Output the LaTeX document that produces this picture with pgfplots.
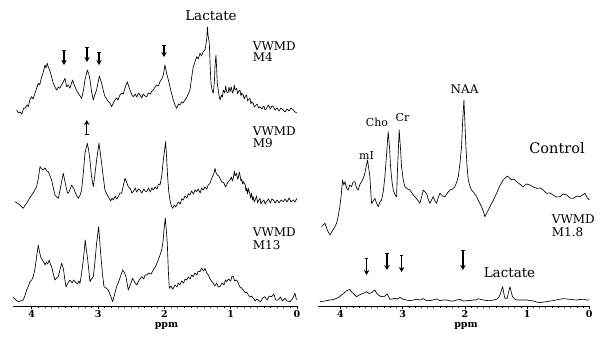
\documentclass[border=0pt]{standalone}
\usepackage{pgfplots}
\pgfplotsset{compat=1.18}
\usepackage{fontspec}
\setmainfont{DejaVu Serif}
\usetikzlibrary{arrows.meta}
\tikzset{
  arr/.style={line width=1.4pt, {Bar[width=3.5pt,line width=1pt]}-{Stealth[length=5pt,width=5.5pt]}},
  trace/.style={black, line width=0.65pt, line join=round},
}
\pgfplotsset{
  spec/.style={
    scale only axis, height=306pt, ymin=0, ymax=306, x dir=reverse, xmin=0,
    axis x line=bottom, axis y line=none, axis line style={-, line width=0.7pt},
    xtick={0,1,2,3,4}, minor x tick num=9, tick align=outside,
    major tick length=3.5pt, minor tick length=2.2pt,
    tick style={line width=0.6pt, black},
    xticklabel style={font=\fontsize{9.5}{9.5}\selectfont\bfseries, inner sep=0.8pt},
    /pgf/number format/assume math mode=true,
    clip=false,
  },
}
\begin{document}
\begin{tikzpicture}
\useasboundingbox (0pt,0pt) rectangle (603pt,337pt);
% ---------------- left panel ----------------
\begin{axis}[spec, at={(13.2pt,31pt)}, anchor=south west, width=283.8pt, xmax=4.28]
% M4
\addplot[trace, no markers] coordinates {
(4.228,196) (4.20,193) (4.178,194) (4.15,192) (4.12,198) (4.103,197.7) (4.07,201) (4.052,199.3) (4.03,206) (4.002,209.3) (3.98,207) (3.952,212.7) (3.93,217) (3.901,222.7) (3.88,221) (3.851,229.3) (3.83,233) (3.801,241) (3.785,238) (3.766,242.7) (3.75,239) (3.731,236) (3.70,229) (3.675,222.7) (3.65,219) (3.625,216) (3.60,219) (3.575,217.7) (3.55,221) (3.524,224.3) (3.499,227.7) (3.474,219.3) (3.45,221) (3.424,217.7) (3.40,223) (3.384,226) (3.365,222) (3.348,219.3) (3.32,215) (3.298,212.7) (3.27,210) (3.248,207.7) (3.22,216) (3.198,226) (3.162,236) (3.14,232) (3.122,226) (3.10,215) (3.072,206) (3.05,211) (3.022,216) (2.981,230) (2.946,222.7) (2.92,215) (2.896,209.3) (2.87,207) (2.846,204.3) (2.82,203) (2.795,199.3) (2.77,203) (2.745,206) (2.72,208) (2.70,206) (2.670,211) (2.64,213) (2.62,212) (2.594,217.7) (2.559,224.3) (2.54,220) (2.519,216) (2.49,211) (2.469,209.3) (2.44,212) (2.42,209) (2.39,213) (2.368,211) (2.34,208) (2.32,212) (2.29,210) (2.267,209.3) (2.24,213) (2.21,212) (2.19,215) (2.167,216) (2.14,219) (2.117,221) (2.09,220) (2.066,224.3) (2.04,227) (2.016,231) (1.991,241) (1.966,232.7) (1.94,226) (1.916,219.3) (1.89,212) (1.865,206) (1.84,201) (1.815,197.7) (1.79,202) (1.765,201) (1.74,204) (1.72,203) (1.689,206) (1.66,209) (1.64,212) (1.614,216) (1.59,228) (1.564,239.3) (1.54,244) (1.513,249.3) (1.49,247) (1.463,252.7) (1.44,250) (1.413,254.3) (1.39,256) (1.378,259.3) (1.36,268) (1.352,279.3) (1.34,270) (1.322,262.7) (1.31,240) (1.297,222.7) (1.28,216) (1.262,212.7) (1.245,225) (1.237,239.3) (1.222,251) (1.21,235) (1.202,222.7) (1.18,212) (1.161,206) (1.14,211) (1.125,209) (1.111,216) (1.09,213) (1.075,220) (1.06,214) (1.04,213) (1.025,219) (1.011,214.3) (0.99,219) (0.975,213) (0.96,215) (0.945,221) (0.935,216) (0.91,217.7) (0.895,212) (0.885,214) (0.86,216) (0.845,210) (0.835,212.7) (0.81,211) (0.795,207) (0.784,209.3) (0.76,211) (0.745,205) (0.735,206) (0.709,207.7) (0.695,202) (0.685,204) (0.659,202.7) (0.645,199) (0.63,200) (0.60,202) (0.58,198) (0.558,199.3) (0.53,197) (0.50,200) (0.48,196) (0.458,197.7) (0.43,201) (0.40,197) (0.38,200) (0.357,199.3) (0.33,196) (0.30,198) (0.27,195) (0.24,198) (0.206,196) (0.18,194) (0.15,197) (0.12,195) (0.09,198) (0.055,196) (0.03,194) (0.0,193)
};
% M9
\addplot[trace, no markers] coordinates {
(4.253,104.3) (4.22,103) (4.178,101) (4.15,99) (4.128,97.7) (4.10,101) (4.077,102.7) (4.04,107) (4.002,111) (3.97,114) (3.927,119.3) (3.90,128) (3.876,139.3) (3.85,137) (3.826,136) (3.80,138) (3.775,135) (3.751,134.3) (3.725,130) (3.700,126) (3.675,118) (3.650,111) (3.625,109) (3.600,107.7) (3.575,115) (3.550,124.3) (3.524,132.7) (3.484,119.3) (3.465,114) (3.449,112.7) (3.42,117) (3.399,121) (3.37,118) (3.348,114.3) (3.32,110) (3.298,107.7) (3.27,111) (3.248,116) (3.22,135) (3.198,152.7) (3.162,162.7) (3.14,155) (3.122,146) (3.10,130) (3.072,119.3) (3.05,130) (3.022,146) (2.986,162.7) (2.966,153) (2.946,142.7) (2.92,128) (2.896,116) (2.87,112) (2.846,109.3) (2.81,105) (2.79,108) (2.770,106) (2.74,110) (2.72,107) (2.695,109.3) (2.67,113) (2.645,112.7) (2.62,120) (2.594,127.7) (2.57,124) (2.544,119.3) (2.51,117) (2.49,113) (2.469,114.3) (2.44,118) (2.42,114) (2.39,117) (2.368,116) (2.34,113) (2.31,117) (2.29,115) (2.267,114.3) (2.24,118) (2.21,114) (2.19,118) (2.167,116) (2.14,119) (2.11,117) (2.09,122) (2.066,121) (2.04,130) (2.016,146) (1.981,164.3) (1.966,148) (1.951,129.3) (1.935,115) (1.916,106) (1.895,100) (1.875,97.7) (1.85,101) (1.83,99) (1.815,101) (1.79,104) (1.76,102) (1.74,107) (1.714,106) (1.69,110) (1.66,108) (1.64,112) (1.614,111) (1.59,115) (1.56,112) (1.54,116) (1.513,114.3) (1.49,117) (1.46,113) (1.44,118) (1.413,116) (1.39,119) (1.36,117) (1.34,121) (1.312,122.7) (1.29,127) (1.27,130) (1.25,133) (1.237,137.7) (1.22,133) (1.20,131) (1.18,130) (1.161,127.7) (1.13,124) (1.10,123) (1.08,119) (1.061,121) (1.04,124) (1.011,126) (0.99,129) (0.975,125) (0.96,128) (0.945,135) (0.935,130) (0.910,132.7) (0.895,127) (0.885,128) (0.870,134) (0.860,131) (0.845,125) (0.835,127) (0.820,122) (0.809,124.3) (0.78,121) (0.77,115) (0.76,118) (0.745,112) (0.734,117.7) (0.71,112) (0.70,108) (0.685,113) (0.67,106) (0.659,109.3) (0.645,104) (0.63,106) (0.61,110) (0.595,103) (0.583,105) (0.558,107.7) (0.545,102) (0.53,104) (0.50,106) (0.48,102) (0.458,104.3) (0.43,107) (0.40,103) (0.38,107) (0.357,106) (0.33,103) (0.30,106) (0.27,103) (0.24,106) (0.206,104.3) (0.18,107) (0.15,104) (0.12,108) (0.09,104) (0.055,106) (0.03,104) (0.0,107.7)
};
% M13
\addplot[trace, no markers] coordinates {
(4.279,8.7) (4.24,6) (4.203,4.3) (4.17,5) (4.128,6) (4.10,11) (4.077,16) (4.05,20) (4.027,24.3) (4.00,26) (3.977,29.3) (3.95,38) (3.927,49.3) (3.901,61) (3.886,55) (3.866,49.3) (3.84,46) (3.82,44) (3.801,41) (3.78,44) (3.76,42) (3.736,46) (3.72,42) (3.700,39.3) (3.675,32) (3.650,26) (3.625,28) (3.600,29.3) (3.575,36) (3.550,42.7) (3.524,37.7) (3.50,26) (3.484,19.3) (3.455,23) (3.424,26) (3.39,23) (3.37,26) (3.348,24.3) (3.31,22) (3.29,25) (3.273,22.7) (3.25,32) (3.223,46) (3.193,66) (3.178,57) (3.162,49.3) (3.14,36) (3.122,24.3) (3.10,27) (3.072,29.3) (3.05,42) (3.022,62.7) (2.991,79.3) (2.976,66) (2.961,52.7) (2.935,33) (2.911,19.3) (2.88,18) (2.846,16) (2.81,10) (2.780,4.3) (2.75,12) (2.720,19.3) (2.68,26) (2.65,32) (2.629,36) (2.60,33) (2.579,29.3) (2.56,22) (2.544,16) (2.51,22) (2.479,27.7) (2.45,24) (2.418,21) (2.38,26) (2.343,29.3) (2.31,27) (2.29,31) (2.267,31) (2.24,33) (2.20,32) (2.167,36) (2.13,40) (2.092,46) (2.06,52) (2.041,56) (2.02,65) (2.006,76) (1.986,88) (1.97,75) (1.956,62.7) (1.94,35) (1.926,17.7) (1.90,20) (1.88,17) (1.865,17.7) (1.84,21) (1.81,19) (1.79,23) (1.765,21) (1.74,25) (1.71,23) (1.69,27) (1.664,26) (1.64,29) (1.61,27) (1.59,31) (1.564,29.3) (1.54,33) (1.51,31) (1.49,35) (1.463,34.3) (1.44,38) (1.41,35) (1.388,37.7) (1.36,33) (1.337,31) (1.31,27) (1.29,25) (1.262,22.7) (1.24,20) (1.21,23) (1.19,19) (1.161,19.3) (1.13,23) (1.10,21) (1.08,26) (1.061,24.3) (1.03,27) (1.00,25) (0.98,30) (0.960,29.3) (0.94,25) (0.91,26) (0.885,22.7) (0.86,19) (0.835,18) (0.809,16) (0.78,13) (0.76,14) (0.734,11) (0.71,9) (0.685,10) (0.659,7.7) (0.63,5) (0.61,7) (0.583,6) (0.55,4) (0.52,8) (0.483,9.3) (0.45,6) (0.42,10) (0.382,9.3) (0.35,12) (0.32,6) (0.282,6) (0.25,9) (0.22,5) (0.181,7.7) (0.15,5) (0.106,4.3) (0.07,7) (0.030,12.7) (0.015,8) (0.0,6)
};
% arrows
\draw[arr] (axis cs:3.514,256) -- (axis cs:3.514,241);
\draw[arr] (axis cs:3.167,259) -- (axis cs:3.167,244);
\draw[arr] (axis cs:2.986,254) -- (axis cs:2.986,241);
\draw[arr] (axis cs:2.006,261) -- (axis cs:2.006,249);
\draw[arr] (axis cs:3.17,171) -- (axis cs:3.17,186);
\end{axis}
% ---------------- right panel ----------------
\begin{axis}[spec, at={(318pt,31pt)}, anchor=south west, width=271.3pt, xmax=4.36]
% Control
\addplot[trace, no markers] coordinates {
(4.303,79.3) (4.249,82.7) (4.21,76) (4.169,71) (4.13,75) (4.088,79.3) (4.062,82.7) (4.035,90) (4.009,99.3) (3.985,112) (3.966,126) (3.945,121) (3.928,124.3) (3.90,118) (3.875,116) (3.85,121) (3.821,119.3) (3.795,124) (3.767,124.3) (3.74,118) (3.714,116) (3.69,121) (3.660,124.3) (3.63,128) (3.607,132.7) (3.585,140) (3.564,146) (3.545,138) (3.526,129.3) (3.51,112) (3.499,102.7) (3.47,105) (3.446,107.7) (3.42,103) (3.392,99.3) (3.365,104) (3.339,106) (3.31,115) (3.285,129.3) (3.26,150) (3.232,174.3) (3.21,158) (3.194,139.3) (3.17,124) (3.151,116) (3.12,111) (3.098,109.3) (3.08,140) (3.055,176) (3.035,158) (3.017,139.3) (2.99,126) (2.964,119.3) (2.92,117) (2.883,116) (2.84,112) (2.803,109.3) (2.76,106) (2.723,102.7) (2.695,109) (2.669,116) (2.64,114) (2.615,112.7) (2.59,107) (2.562,102.7) (2.535,106) (2.508,109.3) (2.48,105) (2.454,102.7) (2.43,108) (2.401,112.7) (2.36,110) (2.320,109.3) (2.28,113) (2.240,116) (2.20,117) (2.160,119.3) (2.13,124) (2.106,129.3) (2.08,142) (2.053,159.3) (2.035,185) (2.015,206) (2.00,185) (1.983,159.3) (1.965,140) (1.945,126) (1.92,120) (1.892,116) (1.85,113) (1.811,109.3) (1.77,104) (1.731,99.3) (1.70,94) (1.677,89.3) (1.64,94) (1.597,99.3) (1.54,106) (1.490,112.7) (1.44,120) (1.383,126) (1.35,128) (1.318,130) (1.28,128) (1.249,126) (1.21,127) (1.168,124.3) (1.12,122) (1.061,119.3) (1.01,122) (0.954,121) (0.90,119) (0.847,117.7) (0.79,118) (0.740,116) (0.71,114) (0.686,112.7) (0.63,113) (0.579,111) (0.53,109) (0.472,109.3) (0.42,112) (0.364,111) (0.31,108) (0.257,107.7) (0.20,110) (0.150,109.3) (0.11,111) (0.070,112.7) (0.03,108) (0.0,106)
};
% M1.8
\addplot[trace, no markers] coordinates {
(4.330,4.3) (4.25,5) (4.169,6) (4.11,6.5) (4.062,7.7) (4.02,9) (3.982,11) (3.94,13) (3.901,15.3) (3.848,16.7) (3.82,14) (3.794,12.7) (3.741,9.3) (3.70,11) (3.660,12) (3.62,13) (3.580,14.3) (3.54,12.5) (3.499,13.3) (3.446,16) (3.42,13) (3.392,11) (3.35,9.5) (3.312,9.3) (3.28,10) (3.248,12) (3.205,6.7) (3.16,7) (3.124,7.7) (3.08,7) (3.044,8.7) (2.990,6.7) (2.94,6) (2.883,5.3) (2.83,6) (2.776,6.7) (2.72,6) (2.669,7.3) (2.615,5.3) (2.56,5.5) (2.508,6) (2.45,7) (2.401,5.3) (2.35,6) (2.294,6) (2.24,5) (2.187,5) (2.13,6) (2.079,6.7) (2.03,5) (1.972,5.3) (1.92,5.5) (1.865,6) (1.82,6) (1.785,7.3) (1.74,6.5) (1.704,6) (1.65,5.5) (1.597,5.3) (1.54,6) (1.490,6.7) (1.46,8) (1.436,11) (1.41,16) (1.393,19.3) (1.375,13) (1.356,7.7) (1.318,7.7) (1.30,13) (1.275,19.3) (1.255,14) (1.233,9.3) (1.20,7) (1.168,6) (1.09,6) (1.008,6) (0.95,5.5) (0.900,5) (0.85,4) (0.793,3.3) (0.74,4) (0.686,4.3) (0.63,5) (0.579,5.3) (0.50,6.5) (0.418,7.3) (0.36,7) (0.311,6.7) (0.26,6.3) (0.204,6) (0.15,6.5) (0.096,6.7) (0.05,6) (0.0,6)
};
\draw[arr] (axis cs:3.579,48) -- (axis cs:3.579,31);
\draw[arr] (axis cs:3.252,53) -- (axis cs:3.252,36);
\draw[arr] (axis cs:3.016,51) -- (axis cs:3.016,34);
\draw[arr] (axis cs:2.031,56) -- (axis cs:2.031,36);
\end{axis}
% ---------------- labels ----------------
\begin{scope}[every node/.style={inner sep=0pt, text depth=0pt}]
\node[font=\fontsize{13.5}{13.5}\selectfont] at (211pt,321pt) {Lactate};
\node[anchor=west, font=\fontsize{12}{12}\selectfont] at (252.7pt,291pt) {VWMD};
\node[anchor=west, font=\fontsize{12}{12}\selectfont] at (252.7pt,279.5pt) {M4};
\node[anchor=west, font=\fontsize{12}{12}\selectfont] at (252.7pt,206pt) {VWMD};
\node[anchor=west, font=\fontsize{12}{12}\selectfont] at (252.7pt,193.5pt) {M9};
\node[anchor=west, font=\fontsize{12}{12}\selectfont] at (252.7pt,104.5pt) {VWMD};
\node[anchor=west, font=\fontsize{12}{12}\selectfont] at (252.7pt,92pt) {M13};
\node[font=\fontsize{14.5}{14.5}\selectfont] at (557pt,189.5pt) {Control};
\node[anchor=west, font=\fontsize{12}{12}\selectfont] at (551.7pt,118pt) {VWMD};
\node[anchor=west, font=\fontsize{12}{12}\selectfont] at (551.7pt,105pt) {M1.8};
\node[font=\fontsize{13.5}{13.5}\selectfont] at (509.5pt,64.5pt) {Lactate};
\node[font=\fontsize{12}{12}\selectfont] at (464.5pt,247.5pt) {NAA};
\node[font=\fontsize{11}{11}\selectfont] at (377pt,215pt) {Cho};
\node[font=\fontsize{11}{11}\selectfont] at (402.5pt,220pt) {Cr};
\node[font=\fontsize{11}{11}\selectfont] at (366.5pt,182pt) {mI};
\node[font=\fontsize{9.5}{9.5}\selectfont\bfseries] at (166.5pt,12.5pt) {ppm};
\node[font=\fontsize{9.5}{9.5}\selectfont\bfseries] at (466pt,12.5pt) {ppm};
\end{scope}
\end{tikzpicture}
\end{document}
